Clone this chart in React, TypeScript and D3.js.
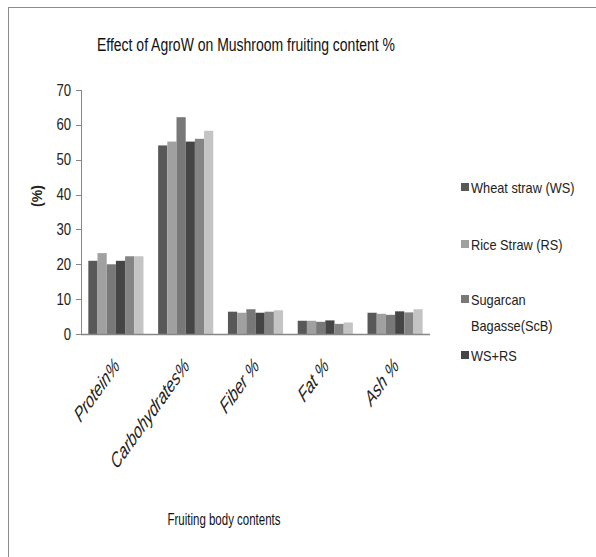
import { useRef, useEffect } from 'react';
import * as d3 from 'd3';

const categories = ['Protein%', 'Carbohydrates%', 'Fiber %', 'Fat %', 'Ash %'];
const seriesNames = [
  'Wheat straw (WS)',
  'Rice Straw (RS)',
  'Sugarcan Bagasse(ScB)',
  'WS+RS',
  'Series5',
  'Series6',
];
// values per series, one per category
const wheatStraw = [21.0, 54.1, 6.4, 3.8, 6.1];
const riceStraw = [23.2, 55.2, 6.1, 3.8, 5.8];
const sugarcane = [20.0, 62.2, 7.1, 3.5, 5.5];
const wsRs = [21.0, 55.2, 6.1, 3.9, 6.5];
const series5 = [22.3, 56.0, 6.4, 2.9, 6.2];
const series6 = [22.3, 58.3, 6.8, 3.3, 7.1];
const seriesValues = [wheatStraw, riceStraw, sugarcane, wsRs, series5, series6];
const yTicks = [0, 10, 20, 30, 40, 50, 60, 70];

const colors = ['#585858', '#a0a0a0', '#787878', '#454545', '#848484', '#c4c4c4'];
// only the first four show in the legend (the rest is cut off in the original)
const legendLines = [['Wheat straw (WS)'], ['Rice Straw (RS)'], ['Sugarcan', 'Bagasse(ScB)'], ['WS+RS']];
const legendY = [187, 244, 299, 355];

const FONT = "'Liberation Sans', Arial, sans-serif";

// squeeze Arial-metric text to look like the narrower Calibri of the original
function narrow(sel: d3.Selection<SVGTextElement, unknown, null, undefined>, k = 0.86) {
  const node = sel.node();
  if (!node) return sel;
  const len = node.getComputedTextLength();
  return sel.attr('textLength', len * k).attr('lengthAdjust', 'spacingAndGlyphs');
}

export default function App() {
  const ref = useRef<SVGSVGElement | null>(null);

  useEffect(() => {
    const svg = d3.select(ref.current);
    svg.selectAll('*').remove();

    const width = 596;
    const height = 557;
    const margin = { top: 90, left: 81, right: 166, bottom: 223 };
    const axisColor = '#868686';

    // outer frame
    svg
      .append('rect')
      .attr('x', 8.5)
      .attr('y', 7.5)
      .attr('width', width)
      .attr('height', height)
      .attr('fill', 'white')
      .attr('stroke', '#8c8c8c')
      .attr('stroke-width', 1);

    svg
      .append('text')
      .attr('x', 246)
      .attr('y', 51)
      .attr('text-anchor', 'middle')
      .attr('font-family', FONT)
      .attr('font-size', '18px')
      .attr('fill', '#111')
      .attr('textLength', 298)
      .attr('lengthAdjust', 'spacingAndGlyphs')
      .text('Effect of AgroW on Mushroom fruiting content %');

    const x0 = d3
      .scaleBand()
      .domain(categories)
      .range([margin.left, width - margin.right])
      .paddingInner(0.21)
      .paddingOuter(0.105);

    const x1 = d3
      .scaleBand()
      .domain(seriesNames)
      .range([0, x0.bandwidth()])
      .padding(0);

    const y = d3
      .scaleLinear()
      .domain([0, 70])
      .range([height - margin.bottom, margin.top]);

    // bars
    categories.forEach((cat, ci) => {
      seriesNames.forEach((name, si) => {
        const v = seriesValues[si][ci];
        svg
          .append('rect')
          .attr('x', x0(cat)! + x1(name)!)
          .attr('width', x1.bandwidth())
          .attr('y', y(v))
          .attr('height', y(0) - y(v))
          .attr('fill', colors[si]);
      });
    });

    // y axis
    const y0 = y(0);
    svg
      .append('line')
      .attr('x1', margin.left + 0.5)
      .attr('x2', margin.left + 0.5)
      .attr('y1', y(70))
      .attr('y2', y0)
      .attr('stroke', axisColor);

    yTicks.forEach((t) => {
      svg
        .append('line')
        .attr('x1', margin.left - 5)
        .attr('x2', margin.left)
        .attr('y1', Math.round(y(t)) + 0.5)
        .attr('y2', Math.round(y(t)) + 0.5)
        .attr('stroke', axisColor);
      const lbl = svg
        .append('text')
        .attr('x', margin.left - 10)
        .attr('y', y(t) + 5.5)
        .attr('text-anchor', 'end')
        .attr('font-family', FONT)
        .attr('font-size', '16px')
        .attr('fill', '#222')
        .text(String(t));
      narrow(lbl, 0.82);
    });

    // x axis baseline
    svg
      .append('line')
      .attr('x1', margin.left)
      .attr('x2', width - margin.right)
      .attr('y1', Math.round(y0) + 0.5)
      .attr('y2', Math.round(y0) + 0.5)
      .attr('stroke', axisColor)
      .attr('stroke-width', 1.5);

    // category labels (the original picture is stretched vertically, so the
    // 45° labels come out steeper)
    categories.forEach((cat) => {
      const cx = x0(cat)! + x0.bandwidth() / 2 - 2;
      const cy = y0 + 24;
      const lbl = svg
        .append('text')
        .attr('transform', `translate(${cx},${cy}) scale(1,1.4) rotate(-45)`)
        .attr('text-anchor', 'end')
        .attr('dy', '0.6em')
        .attr('font-family', FONT)
        .attr('font-style', 'italic')
        .attr('font-size', '15.5px')
        .attr('fill', '#222')
        .text(cat);
      narrow(lbl, 0.9);
    });

    // y title
    svg
      .append('text')
      .attr('transform', `translate(42,196) rotate(-90)`)
      .attr('text-anchor', 'middle')
      .attr('font-family', FONT)
      .attr('font-weight', 'bold')
      .attr('font-size', '14px')
      .attr('fill', '#222')
      .text('(%)');

    // x title
    svg
      .append('text')
      .attr('x', 224)
      .attr('y', 525)
      .attr('text-anchor', 'middle')
      .attr('font-family', FONT)
      .attr('font-size', '16px')
      .attr('fill', '#111')
      .attr('textLength', 113)
      .attr('lengthAdjust', 'spacingAndGlyphs')
      .text('Fruiting body contents');

    // legend
    legendLines.forEach((lines, i) => {
      const ly = legendY[i];
      svg
        .append('rect')
        .attr('x', 461)
        .attr('y', ly - 4)
        .attr('width', 8)
        .attr('height', 8)
        .attr('fill', colors[i]);
      lines.forEach((line, li) => {
        const t = svg
          .append('text')
          .attr('x', 471)
          .attr('y', ly + 5.5 + li * 26)
          .attr('font-family', FONT)
          .attr('font-size', '14.5px')
          .attr('fill', '#222')
          .text(line);
        narrow(t, 0.88);
      });
    });
  }, []);

  return (
    <svg
      ref={ref}
      width={596}
      height={557}
      style={{ position: 'absolute', left: 0, top: 0, display: 'block', background: 'white' }}
    />
  );
}
